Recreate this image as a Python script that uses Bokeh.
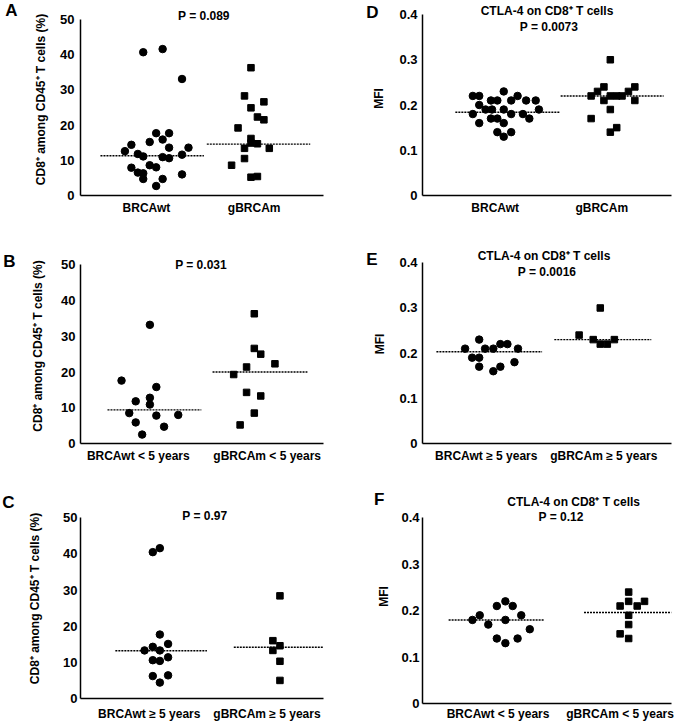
from bokeh.plotting import figure
from bokeh.layouts import row, column
from bokeh.models import FixedTicker, Label, Range1d, LinearAxis, CustomJSTickFormatter
from bokeh.embed import file_html
from bokeh.resources import INLINE

FONT = "Liberation Sans"

# ---------------- data ----------------
cd8_ticks = [0, 10, 20, 30, 40, 50]
mfi_ticks = [0, 0.1, 0.2, 0.3, 0.4]
cd8_label = "CD8\u207a among CD45\u207a T cells (%)"
mfi_label = "MFI"
ctla_title = "CTLA-4 on CD8\u207a T cells"

A_groups = ["BRCAwt", "gBRCAm"]
A_wt_x = [0.97, 1.15, 1.33, 1.09, 1.21, 1.15, 1.03, 0.86, 1.39, 1.21, 0.80, 0.92, 1.33,
          0.97, 1.15, 1.21, 1.03, 1.09, 0.86, 0.92, 0.97, 1.33, 0.97, 1.15, 1.09]
A_wt_y = [40.7, 41.6, 33.1, 17.7, 17.7, 15.9, 15.2, 14.4, 13.6, 13.6, 12.6, 11.8, 11.6,
          11.1, 10.9, 10.6, 8.6, 8.0, 7.9, 6.5, 6.3, 6.0, 4.7, 4.7, 2.7]
A_m_x = [1.97, 1.91, 2.09, 1.97, 2.03, 2.09, 1.85, 1.97, 1.97, 2.03, 1.91, 2.14, 1.91, 1.79, 1.97, 2.03]
A_m_y = [36.3, 28.3, 26.6, 24.9, 22.3, 21.5, 19.2, 16.2, 14.9, 14.7, 13.4, 13.4, 10.5, 8.6, 5.2, 5.4]
A_med = [11.3, 14.6]
A_p = "P = 0.089"

B_groups = ["BRCAwt < 5 years", "gBRCAm < 5 years"]
B_wt_x = [1.09, 0.87, 1.14, 1.09, 0.98, 1.09, 0.93, 1.14, 1.31, 0.98, 1.20, 1.03]
B_wt_y = [33.2, 17.6, 15.8, 12.8, 11.8, 10.9, 8.5, 7.8, 8.0, 5.9, 4.7, 2.5]
B_m_x = [1.90, 1.90, 1.95, 1.84, 2.06, 1.74, 1.84, 1.95, 1.90, 1.79]
B_m_y = [36.3, 26.6, 25.0, 21.4, 22.3, 19.3, 14.3, 13.3, 8.5, 5.2]
B_med = [9.4, 20.0]
B_p = "P = 0.031"

C_groups = ["BRCAwt \u2265 5 years", "gBRCAm \u2265 5 years"]
C_wt_x = [1.03, 1.09, 1.09, 0.96, 1.03, 1.09, 1.16, 1.03, 1.09, 1.16, 1.03, 1.16, 1.09]
C_wt_y = [40.5, 41.6, 17.7, 13.3, 14.3, 13.3, 15.1, 10.6, 10.4, 11.4, 6.2, 6.4, 4.4]
C_m_x = [2.11, 2.05, 2.05, 2.11, 2.11, 2.11]
C_m_y = [28.4, 16.0, 13.3, 14.6, 10.3, 5.0]
C_med = [13.2, 14.2]
C_p = "P = 0.97"

D_groups = ["BRCAwt", "gBRCAm"]
D_wt_x = [0.79, 0.85, 1.08, 1.21, 0.85, 0.96, 1.02, 1.15, 1.29, 1.38, 0.91, 0.97, 1.08,
          1.41, 0.79, 1.15, 1.26, 0.96, 1.02, 1.32, 0.85, 1.08, 1.02, 1.15, 1.08]
D_wt_y = [0.22, 0.22, 0.23, 0.22, 0.20, 0.21, 0.21, 0.21, 0.21, 0.21, 0.19, 0.19, 0.19,
          0.19, 0.18, 0.18, 0.18, 0.17, 0.17, 0.17, 0.16, 0.16, 0.14, 0.14, 0.13]
D_m_x = [2.08, 1.90, 1.96, 2.02, 2.02, 2.08, 2.14, 2.19, 2.25, 2.31, 2.31, 2.08, 1.90, 2.14, 2.08]
D_m_y = [0.30, 0.22, 0.23, 0.24, 0.21, 0.22, 0.22, 0.22, 0.23, 0.24, 0.21, 0.19, 0.17, 0.15, 0.14]
D_med = [0.184, 0.22]
D_p = "P = 0.0073"

E_groups = ["BRCAwt \u2265 5 years", "gBRCAm \u2265 5 years"]
E_wt_x = [0.94, 0.82, 0.99, 1.06, 1.12, 1.18, 1.27, 0.88, 0.94, 1.24, 0.94, 1.12, 1.06]
E_wt_y = [0.23, 0.21, 0.21, 0.21, 0.22, 0.22, 0.21, 0.19, 0.19, 0.18, 0.17, 0.17, 0.16]
E_m_x = [1.97, 1.79, 1.91, 2.09, 1.97, 2.03]
E_m_y = [0.30, 0.24, 0.23, 0.23, 0.22, 0.22]
E_med = [0.203, 0.23]
E_p = "P = 0.0016"

F_groups = ["BRCAwt < 5 years", "gBRCAm < 5 years"]
F_wt_x = [1.06, 0.99, 1.12, 0.85, 1.19, 0.79, 1.06, 0.92, 1.26, 0.99, 1.16, 1.06]
F_wt_y = [0.22, 0.21, 0.21, 0.19, 0.19, 0.18, 0.18, 0.17, 0.16, 0.14, 0.14, 0.13]
F_m_x = [2.07, 2.00, 2.07, 2.14, 2.20, 2.07, 2.07, 2.00, 2.07]
F_m_y = [0.24, 0.21, 0.22, 0.21, 0.22, 0.19, 0.17, 0.15, 0.14]
F_med = [0.18, 0.196]
F_p = "P = 0.12"

SHIFT = 10  # the left column is pulled left by this much so its letters can sit near the edge


def panel(fig_box, frame_box, data_top, xr, ticks, ylabel, groups,
          wt_x, wt_y, m_x, m_y, med, spans, letter, texts,
          ystd, ylstd, xstd, lstd):
    ox, oy, w, h = fig_box
    fl, fr, ft, fb = frame_box
    ymax = ticks[-1]
    # extend the y range above the data so that the titles sit inside the frame
    y_end = ymax * (fb - ft) / (fb - data_top)
    p = figure(width=w, height=h, x_range=Range1d(*xr), y_range=Range1d(0, y_end),
               output_backend="svg", toolbar_location=None, title=None,
               min_border_left=fl - ox, min_border_right=ox + w - fr,
               min_border_top=ft - oy, min_border_bottom=oy + h - fb)
    p.outline_line_color = None
    p.xgrid.visible = False
    p.ygrid.visible = False
    p.background_fill_color = "white"
    p.border_fill_color = "white"

    def ty(py):
        return y_end - (py - ft) / (fb - ft) * y_end

    def tx(px):
        return xr[0] + (px - fl) / (fr - fl) * (xr[1] - xr[0])

    xa = p.xaxis[0]
    xa.ticker = FixedTicker(ticks=[1, 2])
    xa.major_label_overrides = {1: groups[0], 2: groups[1]}
    xa.major_label_standoff = xstd
    ya = p.yaxis[0]
    ya.bounds = (0, ymax)
    ya.ticker = FixedTicker(ticks=ticks)
    ya.major_label_overrides = {t: ("0" if t == 0 else f"{t:g}") for t in ticks}
    ya.axis_label = ylabel
    ya.axis_label_standoff = ylstd
    ya.axis_label_text_font = FONT
    ya.axis_label_text_font_style = "bold"
    ya.axis_label_text_font_size = "12px"
    ya.axis_label_text_color = "black"
    ya.major_label_standoff = ystd
    for ax, fs in ((xa, "12px"), (ya, "13px")):
        ax.axis_line_color = "black"
        ax.axis_line_width = 1.5
        ax.major_tick_line_color = None
        ax.minor_tick_line_color = None
        ax.major_tick_out = 0
        ax.major_tick_in = 0
        ax.minor_tick_out = 0
        ax.major_label_text_font = FONT
        ax.major_label_text_font_style = "bold"
        ax.major_label_text_font_size = fs
        ax.major_label_text_color = "black"

    # panel letter: the single tick label of an extra, line-less left axis
    letter_text, letter_y = letter
    la = LinearAxis(ticker=FixedTicker(ticks=[ty(letter_y)]),
                    formatter=CustomJSTickFormatter(code="return '%s';" % letter_text),
                    axis_line_color=None, major_tick_line_color=None,
                    minor_tick_line_color=None, major_tick_out=0, major_tick_in=0,
                    minor_tick_out=0, major_label_standoff=lstd,
                    major_label_text_font=FONT, major_label_text_font_style="bold",
                    major_label_text_font_size="17px", major_label_text_color="black")
    p.add_layout(la, "left")

    # median lines
    for gi, (s0, s1) in enumerate(spans):
        p.line([s0, s1], [med[gi], med[gi]], line_color="black", line_width=1.4,
               line_dash="2 1")
    p.scatter(wt_x, wt_y, marker="circle", size=7.5, fill_color="black", line_color="black")
    p.scatter(m_x, m_y, marker="square", size=6.5, fill_color="black", line_color="black")

    for t, px, py in texts:
        p.add_layout(Label(x=tx(px), y=ty(py), text=t, text_font=FONT,
                           text_font_style="bold", text_font_size="12px",
                           text_align="center", text_baseline="middle", text_color="black"))
    return p


LW = 340 + SHIFT
pA = panel((-SHIFT, 0, LW, 222), (74, 330, 3, 195), 19, (0.3877, 2.6432), cd8_ticks, cd8_label,
           A_groups, A_wt_x, A_wt_y, A_m_x, A_m_y, A_med, [(0.573, 1.533), (1.56, 2.52)],
           ("A", 10), [(A_p, 204, 15)], 6, 9, 5, 14)
pB = panel((-SHIFT, 222, LW, 246), (77, 323, 248, 443), 264.3, (0.5517, 2.4368), cd8_ticks, cd8_label,
           B_groups, B_wt_x, B_wt_y, B_m_x, B_m_y, B_med, [(0.761, 1.489), (1.576, 2.312)],
           ("B", 261), [(B_p, 199, 264)], 5, 13, 5, 13)
pC = panel((-SHIFT, 468, LW, 255), (80, 338, 498, 698), 517.3, (0.416, 2.48), cd8_ticks, cd8_label,
           C_groups, C_wt_x, C_wt_y, C_m_x, C_m_y, C_med, [(0.712, 1.49), (1.718, 2.48)],
           ("C", 502), [(C_p, 212, 515)], 3, 18, 8, 11)
pD = panel((340, 0, 336, 222), (422, 672, 1, 195), 14, (0.3178, 2.654), mfi_ticks, mfi_label,
           D_groups, D_wt_x, D_wt_y, D_m_x, D_m_y, D_med, [(0.626, 1.607), (1.614, 2.58)],
           ("D", 12), [(ctla_title, 547, 10.7), (D_p, 549, 26)], 5, 10, 5, -9)
pE = panel((340, 222, 336, 246), (421, 671, 244, 443), 262.3, (0.4576, 2.576), mfi_ticks, mfi_label,
           E_groups, E_wt_x, E_wt_y, E_m_x, E_m_y, E_med, [(0.576, 1.475), (1.579, 2.404)],
           ("E", 259), [(ctla_title, 543, 255), (E_p, 546, 271)], 5, 9, 5, -7)
pF = panel((340, 468, 336, 255), (414, 671, 489, 703), 517.3, (0.381, 2.421), mfi_ticks, mfi_label,
           F_groups, F_wt_x, F_wt_y, F_m_x, F_m_y, F_med, [(0.595, 1.381), (1.704, 2.421)],
           ("F", 499), [(ctla_title, 570, 501.7), (F_p, 557, 516.7)], 3, 7, 3, -10)

left = column(pA, pB, pC, margin=(0, 0, 0, -SHIFT))
right = column(pD, pE, pF)
layout = row(left, right)

with open("out.html", "w") as f:
    f.write(file_html(layout, INLINE))
